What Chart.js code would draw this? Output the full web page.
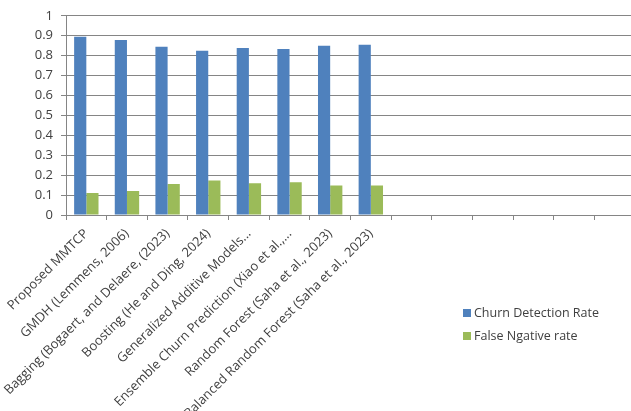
<!DOCTYPE html>
<html>
<head>
<meta charset="utf-8">
<script src="https://cdn.jsdelivr.net/npm/chart.js@4/dist/chart.umd.min.js"></script>
<style>
  html, body { margin: 0; padding: 0; background: #fff; overflow: hidden; }
  #wrap { width: 631px; height: 411px; overflow: hidden; }
</style>
</head>
<body>
<div id="wrap"><canvas id="churnChart" width="635" height="411"></canvas></div>
<script>
// Churn model comparison
const categories = [
  'Proposed MMTCP',
  'GMDH (Lemmens, 2006)',
  'Bagging (Bogaert, and Delaere, (2023)',
  'Boosting (He and Ding, 2024)',
  'Generalized Additive Models...',
  'Ensemble Churn Prediction (Xiao et al.,...',
  'Random Forest (Saha et al., 2023)',
  'Balanced Random Forest (Saha et al., 2023)',
  '', '', '', '', '', ''
];
const detectionRate = [0.895, 0.878, 0.845, 0.825, 0.838, 0.833, 0.85, 0.855, null, null, null, null, null, null];
const falseNegativeRate = [0.11, 0.12, 0.155, 0.173, 0.16, 0.165, 0.148, 0.148, null, null, null, null, null, null];
const yTicks = [0, 0.1, 0.2, 0.3, 0.4, 0.5, 0.6, 0.7, 0.8, 0.9, 1];

const gridColor = '#858585';
const textColor = '#404040';

// legend drawn by hand, off to the right under the plot
const sideLegend = {
  id: 'sideLegend',
  afterDraw(chart) {
    const c = chart.ctx;
    c.save();
    c.font = '12.5px "Open Sans"';
    c.textBaseline = 'middle';
    chart.data.datasets.forEach((ds, i) => {
      const y = 313 + i * 23;
      c.fillStyle = ds.backgroundColor;
      c.fillRect(463, y - 4, 8, 8);
      c.fillStyle = textColor;
      c.fillText(ds.label, 474, y);
    });
    c.restore();
  }
};

const ctx = document.getElementById('churnChart').getContext('2d');
const churnChart = new Chart(ctx, {
  type: 'bar',
  data: {
    labels: categories,
    datasets: [
      {
        label: 'Churn Detection Rate',
        data: detectionRate,
        backgroundColor: '#4F81BD',
        borderWidth: 0
      },
      {
        label: 'False Ngative rate',
        data: falseNegativeRate,
        backgroundColor: '#9BBB59',
        borderWidth: 0
      }
    ]
  },
  options: {
    responsive: false,
    devicePixelRatio: 1,
    animation: false,
    layout: { padding: { top: 15, right: 0, left: 0, bottom: 0 } },
    plugins: {
      legend: { display: false },
      tooltip: { enabled: false }
    },
    datasets: {
      bar: { categoryPercentage: 0.6, barPercentage: 1.0 }
    },
    scales: {
      x: {
        grid: {
          offset: true,
          drawOnChartArea: false,
          color: gridColor,
          tickLength: 5
        },
        border: { color: gridColor },
        ticks: {
          autoSkip: false,
          maxRotation: 45,
          minRotation: 45,
          padding: 6,
          color: textColor,
          font: { family: '"Open Sans"', size: 13 }
        },
        afterFit(scale) { scale.height = 196; }
      },
      y: {
        min: 0,
        max: 1,
        afterBuildTicks(scale) { scale.ticks = yTicks.map(v => ({ value: v })); },
        grid: { color: gridColor, tickLength: 5 },
        border: { color: gridColor },
        ticks: {
          padding: 8,
          color: textColor,
          font: { family: '"Open Sans"', size: 13 },
          callback: v => String(Math.round(v * 10) / 10)
        },
        afterFit(scale) { scale.width = 66; }
      }
    }
  },
  plugins: [sideLegend]
});
</script>
</body>
</html>
